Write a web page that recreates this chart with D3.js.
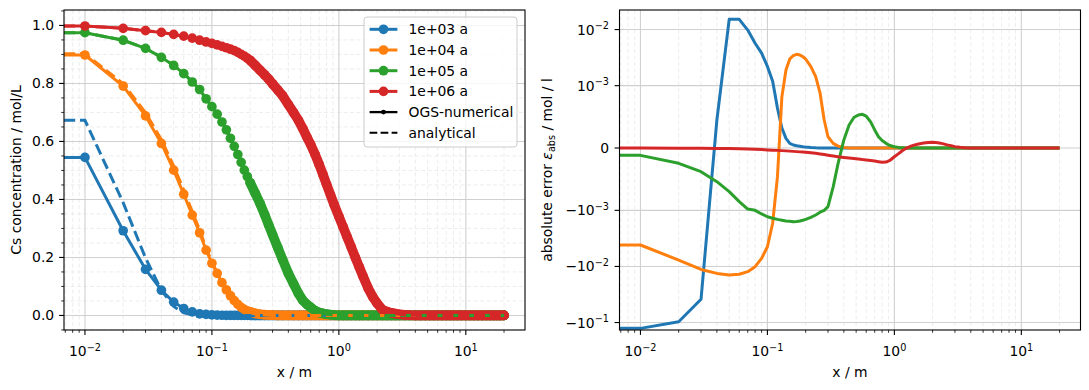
<!DOCTYPE html>
<html><head><meta charset="utf-8">
<script src="https://cdn.jsdelivr.net/npm/d3@7"></script>
<style>body{margin:0;background:#fff}svg{display:block}text{font-family:"DejaVu Sans",sans-serif;fill:#000}</style>
</head><body><svg id="c" width="1089" height="390"></svg>
<script>
// ---------------- DATA ----------------
const xGrid = [0,
 0.01,0.02,0.03,0.04,0.05,0.06,0.07,0.08,0.09,0.10,
 0.11,0.12,0.13,0.14,0.15,0.16,0.17,0.18,0.19,0.20,
 0.22,0.24,0.26,0.28,0.30,
 0.33,0.36,0.40,0.44,0.48,0.52,0.56,0.60,
 0.65,0.70,0.75,0.80,0.86,0.92,1.00,
 1.08,1.16,1.25,1.35,1.45,1.55,1.70,1.85,2.00,
 2.2,2.4,2.6,2.8,3.0,
 3.3,3.6,4.0,4.4,4.8,5.2,5.6,6.0,
 6.5,7.0,7.5,8.0,8.6,9.2,10.0,
 10.8,11.6,12.5,13.5,14.5,15.5,16.5,17.5,18.5,20.0];

const seriesNames = ['1e+03 a','1e+04 a','1e+05 a','1e+06 a'];
const seriesColors = ['#1f77b4','#ff7f0e','#2ca02c','#d62728'];

// numerical concentration (mol/L)
const num1e3 = [0.545,
 0.545,0.292,0.159,0.087,0.046,0.024,0.0125,0.0057,0.0038,0.0022,
 0.0012,0.0006,0.0003,0.00015,0.0001,0.00006,0.00005,0.00003,0.00002,0.00001,
 0,0,0,0,0, 0,0,0,0,0,0,0,0, 0,0,0,0,0,0,0, 0,0,0,0,0,0,0,0,0, 0,0,0,0,0, 0,0,0,0,0,0,0,0, 0,0,0,0,0,0,0, 0,0,0,0,0,0,0,0,0,0];
const num1e4 = [0.898,
 0.898,0.791,0.688,0.593,0.501,0.418,0.346,0.285,0.225,0.180,
 0.145,0.113,0.088,0.068,0.051,0.038,0.028,0.021,0.016,0.0125,
 0.007,0.004,0.0025,0.0015,0.001,
 0.0005,0.0002,0.0001,0,0,0,0,0, 0,0,0,0,0,0,0, 0,0,0,0,0,0,0,0,0, 0,0,0,0,0, 0,0,0,0,0,0,0,0, 0,0,0,0,0,0,0, 0,0,0,0,0,0,0,0,0,0];
const num1e5 = [0.975,
 0.975,0.949,0.921,0.890,0.862,0.834,0.805,0.779,0.747,0.720,
 0.694,0.667,0.640,0.611,0.583,0.555,0.528,0.501,0.479,0.458,
 0.420,0.385,0.348,0.312,0.279,
 0.234,0.193,0.145,0.109,0.076,0.052,0.038,0.028,
 0.016,0.010,0.007,0.0045,0.0025,0.0013,0.0005,
 0.0002,0.0001,0,0,0,0,0,0,0, 0,0,0,0,0, 0,0,0,0,0,0,0,0, 0,0,0,0,0,0,0, 0,0,0,0,0,0,0,0,0,0];
const num1e6 = [0.998,
 0.998,0.990,0.982,0.976,0.969,0.963,0.956,0.949,0.943,0.938,
 0.933,0.928,0.923,0.918,0.913,0.907,0.900,0.894,0.887,0.880,
 0.862,0.845,0.830,0.815,0.799,
 0.778,0.758,0.727,0.699,0.673,0.644,0.615,0.589,
 0.555,0.520,0.485,0.452,0.415,0.381,0.341,
 0.305,0.271,0.236,0.199,0.166,0.135,0.094,0.064,0.042,
 0.020,0.013,0.009,0.006,0.004,
 0.002,0.001,0.0004,0,0,0,0,0, 0,0,0,0,0,0,0, 0,0,0,0,0,0,0,0,0,0];

// analytical concentration (mol/L)
const ana1e3 = [0.673,
 0.673,0.389,0.198,0.0866,0.031,0.009,0.0027,0.0003,0.0001,0,
 0,0,0,0,0,0,0,0,0,0,
 0,0,0,0,0, 0,0,0,0,0,0,0,0, 0,0,0,0,0,0,0, 0,0,0,0,0,0,0,0,0, 0,0,0,0,0, 0,0,0,0,0,0,0,0, 0,0,0,0,0,0,0, 0,0,0,0,0,0,0,0,0,0];
const ana1e4 = [0.902,
 0.902,0.799,0.699,0.606,0.515,0.432,0.358,0.295,0.232,0.184,
 0.147,0.113,0.087,0.066,0.048,0.035,0.024,0.017,0.013,0.0095,
 0.005,0.0025,0.0016,0.001,0.0008,
 0.0004,0.0002,0.0001,0,0,0,0,0, 0,0,0,0,0,0,0, 0,0,0,0,0,0,0,0,0, 0,0,0,0,0, 0,0,0,0,0,0,0,0, 0,0,0,0,0,0,0, 0,0,0,0,0,0,0,0,0,0];
const ana1e5 = [0.975,
 0.975,0.949,0.921,0.891,0.863,0.835,0.806,0.780,0.748,0.721,
 0.695,0.668,0.642,0.613,0.585,0.557,0.530,0.503,0.481,0.459,
 0.421,0.386,0.349,0.313,0.280,
 0.235,0.193,0.145,0.109,0.076,0.051,0.037,0.027,
 0.016,0.010,0.007,0.0044,0.0024,0.0013,0.0005,
 0.0002,0.0001,0,0,0,0,0,0,0, 0,0,0,0,0, 0,0,0,0,0,0,0,0, 0,0,0,0,0,0,0, 0,0,0,0,0,0,0,0,0,0];
const ana1e6 = [0.998,
 0.998,0.990,0.982,0.976,0.969,0.963,0.956,0.949,0.943,0.938,
 0.933,0.928,0.923,0.918,0.913,0.907,0.900,0.894,0.887,0.880,
 0.862,0.845,0.830,0.815,0.799,
 0.778,0.758,0.727,0.699,0.673,0.644,0.615,0.589,
 0.555,0.520,0.485,0.452,0.415,0.381,0.341,
 0.305,0.271,0.236,0.199,0.166,0.135,0.094,0.064,0.042,
 0.020,0.013,0.009,0.006,0.004,
 0.002,0.001,0.0004,0,0,0,0,0, 0,0,0,0,0,0,0, 0,0,0,0,0,0,0,0,0,0];

// absolute error (mol/l)
const err1e3 = [-0.127,
 -0.127,-0.0966,-0.0385,0.00045,0.0152,0.0152,0.0098,0.0057,0.0038,0.0022,
 0.0012,0.00064,0.00032,0.000155,0.000075,0.000048,0.000035,0.000027,0.00002,0.000015,
 0.000008,0.000004,0.000002,0.000001,0,
 0,0,0,0,0,0,0,0, 0,0,0,0,0,0,0, 0,0,0,0,0,0,0,0,0, 0,0,0,0,0, 0,0,0,0,0,0,0,0, 0,0,0,0,0,0,0, 0,0,0,0,0,0,0,0,0,0];
const err1e4 = [-0.00415,
 -0.00415,-0.0077,-0.0113,-0.0133,-0.0142,-0.0138,-0.0124,-0.0101,-0.0072,-0.00445,
 -0.0017,-0.00046,0.00082,0.0019,0.0030,0.00342,0.00362,0.00352,0.00329,0.00299,
 0.00218,0.00145,0.00088,0.00045,0.00018,
 0.000075,0.00003,0.00001,0,0,0,0,0, 0,0,0,0,0,0,0, 0,0,0,0,0,0,0,0,0, 0,0,0,0,0, 0,0,0,0,0,0,0,0, 0,0,0,0,0,0,0, 0,0,0,0,0,0,0,0,0,0];
const err1e5 = [-0.000118,
 -0.000118,-0.000246,-0.00038,-0.00054,-0.0007,-0.00086,-0.00098,-0.001,-0.00116,-0.0013,
 -0.00138,-0.00145,-0.0015,-0.00155,-0.00157,-0.00159,-0.00158,-0.00155,-0.0015,-0.00145,
 -0.00133,-0.00121,-0.00108,-0.001,-0.00094,
 -0.00062,-0.00025,0.00013,0.00037,0.00049,0.00053,0.00054,0.00051,
 0.00042,0.00029,0.00018,0.00012,0.000075,0.00004,0.00002,
 0.00001,0.000005,0,0,0,0,0,0,0, 0,0,0,0,0, 0,0,0,0,0,0,0,0, 0,0,0,0,0,0,0, 0,0,0,0,0,0,0,0,0,0];
const err1e6 = [0,
 -0.000001,-0.000002,-0.000004,-0.000006,-0.000009,-0.000012,-0.000016,-0.00002,-0.000025,-0.00003,
 -0.000034,-0.000038,-0.000042,-0.000046,-0.00005,-0.000054,-0.000058,-0.000062,-0.000065,-0.000068,
 -0.000076,-0.000085,-0.000095,-0.000105,-0.000115,
 -0.000128,-0.00014,-0.000152,-0.000162,-0.00017,-0.000178,-0.000186,-0.000192,
 -0.0002,-0.00021,-0.00022,-0.00023,-0.000225,-0.0002,-0.00014,
 -0.00009,-0.00004,0,0.00003,0.00005,0.000065,0.00008,0.00009,0.000092,
 0.000085,0.00007,0.00005,0.000035,0.000022,
 0.000012,0.000005,0.000002,0,0,0,0,0, 0,0,0,0,0,0,0, 0,0,0,0,0,0,0,0,0,0];

const xMajorTicks = [0.01,0.1,1,10];
const xMajorExp = ['\u22122','\u22121','0','1'];
const yLeftTicks = [0,0.2,0.4,0.6,0.8,1.0];
const yLeftTickLabels = ['0.0','0.2','0.4','0.6','0.8','1.0'];
const yRightTicks = [1e-2,1e-3,0,-1e-3,-1e-2,-1e-1];
const yRightSign = ['','','','\u2212','\u2212','\u2212'];
const yRightExp = ['\u22122','\u22123',null,'\u22123','\u22122','\u22121'];
const legendLabels = ['1e+03 a','1e+04 a','1e+05 a','1e+06 a','OGS-numerical','analytical'];

// ---------------- LAYOUT ----------------
const FS = 13.9, SUP = 9.7, MR = 4.85;
const svg = d3.select('#c');
const L = {x0:64, x1:525, y0:10, y1:330};
const R = {x0:619.5, x1:1080.5, y0:10, y1:330};
const xDom = [Math.pow(10,-2.16505), Math.pow(10,1.46608)];
const xL = d3.scaleLog().domain(xDom).range([L.x0, L.x1]);
const xR = d3.scaleLog().domain(xDom).range([R.x0, R.x1]);
const yL = d3.scaleLinear().domain([-0.0502, 1.0532]).range([L.y1, L.y0]);
// symlog (linthresh 1e-3, linscale 1, base 10) -> transformed units
const LT = 1e-3, LSA = 1/(1-0.1);
function symT(v){ const a=Math.abs(v); if(a<=LT) return v/LT*LSA; return Math.sign(v)*(LSA+Math.log10(a/LT)); }
const yRs = d3.scaleLinear().domain([-3.244, 2.460]).range([R.y1, R.y0]);
const yR = v => yRs(symT(v));
function px(scale, x){ return x>0 ? scale(x) : scale.range()[0]-300; }

const defs = svg.append('defs');
[['clipL',L],['clipR',R]].forEach(([id,a])=>{
  defs.append('clipPath').attr('id',id).append('rect')
    .attr('x',a.x0).attr('y',a.y0).attr('width',a.x1-a.x0).attr('height',a.y1-a.y0);
});

function minorLog(dom){
  const out=[]; for(let k=-3;k<=2;k++) for(let m=2;m<=9;m++){ const v=m*Math.pow(10,k); if(v>=dom[0]&&v<=dom[1]) out.push(v);} return out;
}
const xMinor = minorLog(xDom);

const MAJ = '#d0d0d0', MIN = '#ebebeb';
function drawGrid(a, xs, ys, yMinor){
  const g = svg.append('g');
  xMinor.forEach(v=>g.append('line').attr('x1',xs(v)).attr('x2',xs(v)).attr('y1',a.y0).attr('y2',a.y1)
     .attr('stroke',MIN).attr('stroke-width',0.9).attr('stroke-dasharray','4,2.5'));
  (yMinor||[]).forEach(v=>g.append('line').attr('x1',a.x0).attr('x2',a.x1).attr('y1',ys(v)).attr('y2',ys(v))
     .attr('stroke',MIN).attr('stroke-width',0.9).attr('stroke-dasharray','4,2.5'));
  xMajorTicks.forEach(v=>g.append('line').attr('x1',xs(v)).attr('x2',xs(v)).attr('y1',a.y0).attr('y2',a.y1)
     .attr('stroke',MAJ).attr('stroke-width',1.1));
  return g;
}

// ---------------- LEFT PLOT ----------------
const yLeftMinor = [-0.05,0.05,0.1,0.15,0.25,0.3,0.35,0.45,0.5,0.55,0.65,0.7,0.75,0.85,0.9,0.95,1.05].filter(v=>v>=-0.0502&&v<=1.0532);
const gL = drawGrid(L, xL, yL, yLeftMinor);
yLeftTicks.forEach(v=>gL.append('line').attr('x1',L.x0).attr('x2',L.x1).attr('y1',yL(v)).attr('y2',yL(v))
   .attr('stroke',MAJ).attr('stroke-width',1.1));

const numAll = [num1e3,num1e4,num1e5,num1e6];
const anaAll = [ana1e3,ana1e4,ana1e5,ana1e6];
const errAll = [err1e3,err1e4,err1e5,err1e6];

const plotL = svg.append('g').attr('clip-path','url(#clipL)');
const lineL = d3.line().x(d=>px(xL,d[0])).y(d=>yL(d[1]));
numAll.forEach((arr,i)=>{
  const pts = xGrid.map((x,j)=>[x,arr[j]]);
  plotL.append('path').attr('d',lineL(pts)).attr('fill','none').attr('stroke',seriesColors[i])
    .attr('stroke-width',3).attr('stroke-linejoin','round');
  // where the (0.01-spaced) markers merge into a continuous band
  const dense = pts.filter(d=>d[0]>=0.2);
  plotL.append('path').attr('d',lineL(dense)).attr('fill','none').attr('stroke',seriesColors[i])
    .attr('stroke-width',2*MR).attr('stroke-linejoin','round').attr('stroke-linecap','round');
  plotL.append('g').selectAll('circle').data(pts).join('circle')
    .attr('cx',d=>px(xL,d[0])).attr('cy',d=>yL(d[1])).attr('r',MR).attr('fill',seriesColors[i]);
});
anaAll.forEach((arr,i)=>{
  const pts = xGrid.map((x,j)=>[x,arr[j]]);
  plotL.append('path').attr('d',lineL(pts)).attr('fill','none').attr('stroke',seriesColors[i])
    .attr('stroke-width',3).attr('stroke-dasharray','11,4.8');
});

// ---------------- RIGHT PLOT ----------------
const gR = drawGrid(R, xR, null, null);
yRightTicks.forEach(v=>gR.append('line').attr('x1',R.x0).attr('x2',R.x1).attr('y1',yR(v)).attr('y2',yR(v))
   .attr('stroke',MAJ).attr('stroke-width',1.1));
const plotR = svg.append('g').attr('clip-path','url(#clipR)');
const lineR = d3.line().x(d=>px(xR,d[0])).y(d=>yR(d[1]));
errAll.forEach((arr,i)=>{
  const pts = xGrid.map((x,j)=>[x,arr[j]]);
  plotR.append('path').attr('d',lineR(pts)).attr('fill','none').attr('stroke',seriesColors[i])
    .attr('stroke-width',3).attr('stroke-linejoin','round');
});

// ---------------- AXES ----------------
function frame(a){
  svg.append('rect').attr('x',a.x0).attr('y',a.y0).attr('width',a.x1-a.x0).attr('height',a.y1-a.y0)
    .attr('fill','none').attr('stroke','#000').attr('stroke-width',1.1);
}
function xAxis(a, xs){
  const g = svg.append('g');
  xMinor.forEach(v=>g.append('line').attr('x1',xs(v)).attr('x2',xs(v)).attr('y1',a.y1).attr('y2',a.y1+2.8)
     .attr('stroke','#000').attr('stroke-width',0.8));
  xMajorTicks.forEach((v,i)=>{
    g.append('line').attr('x1',xs(v)).attr('x2',xs(v)).attr('y1',a.y1).attr('y2',a.y1+4.9)
     .attr('stroke','#000').attr('stroke-width',1.1);
    const t = g.append('text').attr('x',xs(v)).attr('y',a.y1+26).attr('text-anchor','middle').attr('font-size',FS);
    t.append('tspan').text('10');
    t.append('tspan').attr('dy',-5.5).attr('font-size',SUP).text(xMajorExp[i]);
  });
  g.append('text').attr('x',(a.x0+a.x1)/2).attr('y',377).attr('text-anchor','middle').attr('font-size',FS).text('x / m');
}
frame(L); frame(R);
xAxis(L,xL); xAxis(R,xR);

// left y axis
const gLy = svg.append('g');
yLeftMinor.forEach(v=>gLy.append('line').attr('x1',L.x0-2.8).attr('x2',L.x0).attr('y1',yL(v)).attr('y2',yL(v))
  .attr('stroke','#000').attr('stroke-width',0.8));
yLeftTicks.forEach((v,i)=>{
  gLy.append('line').attr('x1',L.x0-4.9).attr('x2',L.x0).attr('y1',yL(v)).attr('y2',yL(v)).attr('stroke','#000').attr('stroke-width',1.1);
  gLy.append('text').attr('x',L.x0-9.8).attr('y',yL(v)+5).attr('text-anchor','end').attr('font-size',FS).text(yLeftTickLabels[i]);
});
gLy.append('text').attr('transform',`translate(20.5,${(L.y0+L.y1)/2}) rotate(-90)`).attr('text-anchor','middle')
  .attr('font-size',FS).text('Cs concentration / mol/L');

// right y axis
const gRy = svg.append('g');
yRightTicks.forEach((v,i)=>{
  const y = yR(v);
  gRy.append('line').attr('x1',R.x0-4.9).attr('x2',R.x0).attr('y1',y).attr('y2',y).attr('stroke','#000').attr('stroke-width',1.1);
  const t = gRy.append('text').attr('x',R.x0-10.5).attr('y',y+5).attr('text-anchor','end').attr('font-size',FS);
  if(yRightExp[i]===null){ t.text('0'); }
  else {
    t.append('tspan').text(yRightSign[i]+'10');
    t.append('tspan').attr('dy',-5.5).attr('font-size',SUP).text(yRightExp[i]);
  }
});
const yl = gRy.append('text').attr('transform',`translate(551.5,${(R.y0+R.y1)/2}) rotate(-90)`).attr('text-anchor','middle').attr('font-size',FS);
yl.append('tspan').text('absolute error ');
yl.append('tspan').attr('font-style','italic').text('\u03b5');
yl.append('tspan').attr('dy',3).attr('font-size',SUP).text('abs');
yl.append('tspan').attr('dy',-3).text(' / mol / l');

// ---------------- LEGEND ----------------
const lg = svg.append('g');
lg.append('rect').attr('x',364).attr('y',17).attr('width',153).attr('height',130).attr('rx',3)
  .attr('fill','rgba(255,255,255,0.8)').attr('stroke','#cccccc').attr('stroke-width',1);
const hx0 = 369.6, hx1 = 397.4, tx = 408.5, ry0 = 29.3, rdy = 20.7;
legendLabels.forEach((lab,i)=>{
  const cy = ry0 + i*rdy;
  if(i<4){
    lg.append('line').attr('x1',hx0).attr('x2',hx1).attr('y1',cy).attr('y2',cy).attr('stroke',seriesColors[i]).attr('stroke-width',3);
    lg.append('circle').attr('cx',(hx0+hx1)/2).attr('cy',cy).attr('r',MR).attr('fill',seriesColors[i]);
  } else if(i===4){
    lg.append('line').attr('x1',hx0).attr('x2',hx1).attr('y1',cy).attr('y2',cy).attr('stroke','#000').attr('stroke-width',2.3);
    lg.append('circle').attr('cx',(hx0+hx1)/2).attr('cy',cy).attr('r',2.4).attr('fill','#000');
  } else {
    lg.append('line').attr('x1',hx0).attr('x2',hx1).attr('y1',cy).attr('y2',cy).attr('stroke','#000').attr('stroke-width',2.1)
      .attr('stroke-dasharray','7.7,3.3');
  }
  lg.append('text').attr('x',tx).attr('y',cy+5).attr('font-size',FS).text(lab);
});
</script></body></html>
